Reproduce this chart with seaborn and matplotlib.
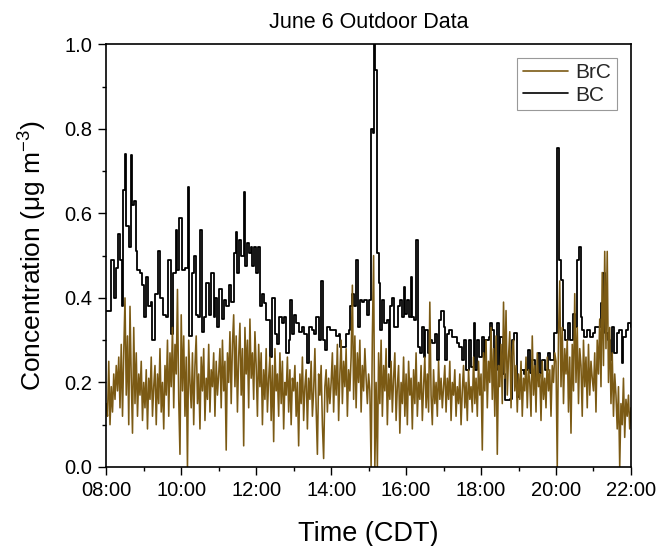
import numpy as np
import pandas as pd
import matplotlib
matplotlib.use("Agg")
import matplotlib.pyplot as plt
import matplotlib.dates as mdates
from matplotlib.ticker import MultipleLocator
from matplotlib.lines import Line2D
import seaborn as sns

# ---------------- data ----------------
title = "June 6 Outdoor Data"
x_label = "Time (CDT)"
y_label = "Concentration (\u03bcg m$^{-3}$)"
series_names = ["BrC", "BC"]
start_time = "2021-06-06 08:00"

# BC: minutes after 08:00 and concentration (step-like trace)
bc_minutes = [0, 5, 8, 12, 15, 19, 22, 25, 27, 30, 32, 36, 39, 42, 44, 47, 50, 54, 58,
              60, 63, 67, 71, 74, 78, 83, 86, 91, 95, 99, 103, 107, 111, 114, 117, 121,
              126, 131, 133, 137, 141, 144, 147, 150, 154, 157, 160, 164, 168, 172, 174,
              178, 181, 185, 189, 192, 196, 199, 204, 207, 210, 213, 216, 220, 222, 225,
              229, 232, 234, 237, 240, 243, 246, 250, 253, 256, 262, 266, 270, 274, 277,
              281, 284, 287, 292, 294, 298, 301, 304, 308, 313, 316, 319, 321, 325, 329,
              332, 336, 340, 343, 347, 350, 354, 358, 364, 368, 372, 374, 380, 384, 388,
              390, 393, 396, 400, 403, 406, 409, 413, 417, 421, 424, 427, 429, 431, 434,
              437, 439, 442, 445, 449, 452, 454, 457, 461, 464, 467, 470, 473, 476, 478,
              481, 484, 488, 490, 493, 496, 499, 502, 505, 508, 511, 515, 518, 522, 526,
              529, 533, 536, 540, 543, 545, 549, 553, 557, 561, 565, 569, 573, 576, 580,
              584, 588, 590, 594, 597, 601, 604, 607, 612, 614, 618, 621, 625, 629, 631,
              635, 638, 642, 646, 649, 653, 657, 661, 664, 668, 670, 675, 678, 682, 686,
              691, 694, 698, 702, 707, 710, 716, 719, 721, 724, 728, 732, 735, 740, 743,
              747, 750, 754, 757, 760, 762, 765, 769, 774, 780, 783, 788, 792, 795, 798,
              803, 806, 810, 813, 817, 821, 825, 828, 832, 836, 840]
bc_values = [0.37, 0.37, 0.49, 0.40, 0.47, 0.55, 0.49, 0.38, 0.655, 0.74, 0.57, 0.52, 0.737,
             0.62, 0.63, 0.51, 0.465, 0.46, 0.43, 0.355, 0.45, 0.38, 0.39, 0.30, 0.41, 0.51,
             0.40, 0.36, 0.355, 0.49, 0.315, 0.46, 0.56, 0.465, 0.59, 0.465, 0.47, 0.663,
             0.31, 0.46, 0.50, 0.36, 0.355, 0.56, 0.32, 0.355, 0.435, 0.36, 0.46, 0.355,
             0.40, 0.33, 0.42, 0.35, 0.395, 0.38, 0.43, 0.39, 0.505, 0.555, 0.46, 0.537,
             0.50, 0.65, 0.475, 0.53, 0.505, 0.52, 0.475, 0.52, 0.458, 0.52, 0.38, 0.41,
             0.387, 0.348, 0.26, 0.40, 0.315, 0.29, 0.355, 0.34, 0.355, 0.27, 0.30, 0.395,
             0.315, 0.36, 0.34, 0.32, 0.33, 0.315, 0.315, 0.245, 0.33, 0.325, 0.315, 0.355,
             0.30, 0.44, 0.30, 0.277, 0.33, 0.325, 0.325, 0.31, 0.315, 0.285, 0.285, 0.315,
             0.325, 0.38, 0.41, 0.38, 0.49, 0.33, 0.395, 0.39, 0.395, 0.36, 0.395, 0.80,
             0.79, 1.0, 0.94, 0.505, 0.435, 0.325, 0.395, 0.34, 0.348, 0.237, 0.38, 0.40,
             0.33, 0.33, 0.38, 0.395, 0.355, 0.426, 0.363, 0.395, 0.355, 0.45, 0.355, 0.348,
             0.537, 0.285, 0.27, 0.33, 0.26, 0.324, 0.27, 0.30, 0.293, 0.315, 0.253, 0.347,
             0.37, 0.33, 0.253, 0.315, 0.324, 0.308, 0.308, 0.293, 0.285, 0.253, 0.30, 0.23,
             0.30, 0.237, 0.34, 0.23, 0.30, 0.261, 0.308, 0.237, 0.30, 0.308, 0.34, 0.324,
             0.23, 0.34, 0.23, 0.308, 0.22, 0.158, 0.158, 0.162, 0.30, 0.316, 0.166, 0.182,
             0.23, 0.22, 0.23, 0.277, 0.222, 0.253, 0.205, 0.269, 0.222, 0.253, 0.23, 0.269,
             0.253, 0.316, 0.316, 0.754, 0.49, 0.442, 0.324, 0.30, 0.34, 0.30, 0.363, 0.332,
             0.49, 0.52, 0.355, 0.324, 0.308, 0.324, 0.308, 0.316, 0.332, 0.332, 0.387,
             0.458, 0.316, 0.30, 0.253, 0.332, 0.269, 0.316, 0.324, 0.245, 0.308, 0.324,
             0.34, 0.33]

# BrC: one value every 2 minutes from 08:00 to 22:00 (one row per hour)
brc_step_minutes = 2
brc_values = [
    0.15, 0.12, 0.25, 0.10, 0.19, 0.13, 0.22, 0.16, 0.24, 0.18, 0.26, 0.14, 0.29, 0.12, 0.27,
    0.40, 0.17, 0.31, 0.10, 0.38, 0.21, 0.08, 0.33, 0.15, 0.27, 0.12, 0.22, 0.17, 0.25, 0.11,
    0.20, 0.14, 0.23, 0.09, 0.21, 0.16, 0.26, 0.12, 0.19, 0.24, 0.10, 0.22, 0.15, 0.28, 0.13,
    0.20, 0.09, 0.24, 0.17, 0.30, 0.12, 0.27, 0.19, 0.33, 0.14, 0.29, 0.22, 0.42, 0.16, 0.03,
    0.36, 0.18, 0.31, 0.12, 0.26, 0.00, 0.30, 0.20, 0.14, 0.27, 0.10, 0.24, 0.31, 0.15, 0.22,
    0.09, 0.26, 0.18, 0.28, 0.11, 0.21, 0.16, 0.29, 0.13, 0.23, 0.19, 0.27, 0.12, 0.25, 0.17,
    0.22, 0.28, 0.14, 0.30, 0.18, 0.25, 0.04, 0.27, 0.20, 0.32, 0.15, 0.29, 0.36, 0.19, 0.31,
    0.13, 0.26, 0.34, 0.17, 0.28, 0.05, 0.33, 0.22, 0.30, 0.14, 0.35, 0.21, 0.27, 0.16, 0.32,
    0.24, 0.12, 0.29, 0.19, 0.27, 0.10, 0.23, 0.16, 0.28, 0.13, 0.21, 0.26, 0.11, 0.24, 0.06,
    0.28, 0.18, 0.22, 0.12, 0.27, 0.15, 0.25, 0.09, 0.20, 0.17, 0.26, 0.13, 0.23, 0.10, 0.21,
    0.18, 0.24, 0.12, 0.20, 0.05, 0.22, 0.15, 0.26, 0.11, 0.19, 0.23, 0.09, 0.21, 0.16, 0.25,
    0.12, 0.18, 0.28, 0.14, 0.03, 0.22, 0.17, 0.24, 0.10, 0.02, 0.19, 0.23, 0.13, 0.21, 0.15,
    0.20, 0.27, 0.13, 0.24, 0.17, 0.29, 0.11, 0.22, 0.30, 0.15, 0.25, 0.19, 0.28, 0.12, 0.23,
    0.18, 0.26, 0.43, 0.16, 0.31, 0.14, 0.27, 0.20, 0.30, 0.13, 0.24, 0.18, 0.28, 0.21, 0.15,
    0.22, 0.18, 0.00, 0.31, 0.50, 0.00, 0.20, 0.00, 0.27, 0.15, 0.30, 0.12, 0.24, 0.18, 0.28,
    0.10, 0.22, 0.16, 0.25, 0.13, 0.21, 0.27, 0.11, 0.19, 0.24, 0.08, 0.20, 0.15, 0.26, 0.12,
    0.22, 0.10, 0.25, 0.17, 0.21, 0.09, 0.23, 0.15, 0.27, 0.12, 0.20, 0.16, 0.24, 0.11, 0.19,
    0.26, 0.14, 0.22, 0.13, 0.39, 0.17, 0.10, 0.23, 0.15, 0.20, 0.12, 0.25, 0.16, 0.21, 0.14,
    0.19, 0.24, 0.13, 0.21, 0.16, 0.25, 0.11, 0.20, 0.17, 0.23, 0.12, 0.19, 0.15, 0.22, 0.10,
    0.18, 0.24, 0.14, 0.20, 0.11, 0.23, 0.16, 0.19, 0.13, 0.26, 0.15, 0.21, 0.12, 0.25, 0.17,
    0.22, 0.04, 0.27, 0.18, 0.30, 0.14, 0.25, 0.20, 0.33, 0.16, 0.28, 0.12, 0.31, 0.03, 0.24,
    0.19, 0.29, 0.15, 0.39, 0.21, 0.37, 0.17, 0.26, 0.32, 0.14, 0.27, 0.30, 0.18, 0.24, 0.13,
    0.22, 0.16, 0.25, 0.12, 0.21, 0.18, 0.26, 0.14, 0.23, 0.20, 0.12, 0.31, 0.17, 0.24, 0.13,
    0.27, 0.19, 0.22, 0.11, 0.25, 0.16, 0.21, 0.14, 0.26, 0.18, 0.23, 0.12, 0.24, 0.20, 0.27,
    0.25, 0.00, 0.31, 0.44, 0.19, 0.33, 0.15, 0.28, 0.22, 0.30, 0.13, 0.26, 0.08, 0.29, 0.18,
    0.41, 0.20, 0.33, 0.15, 0.28, 0.24, 0.12, 0.30, 0.19, 0.26, 0.14, 0.29, 0.17, 0.25, 0.21,
    0.18, 0.27, 0.13, 0.30, 0.22, 0.35, 0.19, 0.46, 0.24, 0.51, 0.28, 0.51, 0.20, 0.33, 0.15,
    0.27, 0.12, 0.22, 0.17, 0.09, 0.19, 0.00, 0.15, 0.10, 0.21, 0.07, 0.16, 0.12, 0.17, 0.09,
    0.14,
]

x_tick_labels = ["08:00", "10:00", "12:00", "14:00", "16:00", "18:00", "20:00", "22:00"]
y_ticks = [0.0, 0.2, 0.4, 0.6, 0.8, 1.0]

# ---------------- build tables ----------------
t0 = pd.Timestamp(start_time)
bc_df = pd.DataFrame({"time": t0 + pd.to_timedelta(bc_minutes, unit="min"),
                      "conc": bc_values})
brc_df = pd.DataFrame({"time": t0 + pd.to_timedelta(np.arange(len(brc_values)) * brc_step_minutes, unit="min"),
                       "conc": brc_values})

# ---------------- style ----------------
sns.set_theme(style="ticks")
plt.rcParams["font.family"] = ["Liberation Sans", "DejaVu Sans"]
plt.rcParams["mathtext.fontset"] = "custom"
plt.rcParams["mathtext.rm"] = "Liberation Sans"
plt.rcParams["mathtext.it"] = "Liberation Sans"
plt.rcParams["xtick.direction"] = "out"
plt.rcParams["ytick.direction"] = "out"

brc_color = "#7B5A14"
bc_color = "#000000"

fig = plt.figure(figsize=(6.6, 5.46), dpi=100)
ax = fig.add_axes([0.161, 0.1447, 0.795, 0.7743])

sns.lineplot(data=bc_df, x="time", y="conc", ax=ax, color=bc_color, linewidth=1.3,
             drawstyle="steps-post", estimator=None, sort=False, legend=False)
sns.lineplot(data=brc_df, x="time", y="conc", ax=ax, color=brc_color, linewidth=1.15,
             estimator=None, sort=False, legend=False)

ax.set_xlim(t0, t0 + pd.Timedelta(hours=14))
ax.set_ylim(0.0, 1.0)

ax.xaxis.set_major_locator(mdates.HourLocator(interval=2))
ax.xaxis.set_minor_locator(mdates.HourLocator(interval=1))
ax.xaxis.set_major_formatter(mdates.DateFormatter("%H:%M"))
ax.set_yticks(y_ticks)
ax.yaxis.set_minor_locator(MultipleLocator(0.1))
ax.yaxis.set_major_formatter(matplotlib.ticker.FormatStrFormatter("%.1f"))

ax.tick_params(axis="both", which="major", length=6, width=1.0, labelsize=14.5, color="black",
               labelcolor="black", pad=4)
ax.tick_params(axis="both", which="minor", length=2.8, width=1.0, color="black")

for s in ax.spines.values():
    s.set_visible(True)
    s.set_color("black")
    s.set_linewidth(1.2)

ax.set_xlabel(x_label, fontsize=19.5, color="black", labelpad=15)
ax.set_ylabel(y_label, fontsize=19, color="black", labelpad=11)
ax.set_title(title, fontsize=15.5, color="black", pad=12)

handles = [Line2D([0], [0], color=brc_color, linewidth=1.2),
           Line2D([0], [0], color=bc_color, linewidth=1.2)]
leg = ax.legend(handles, series_names, loc="upper right", fontsize=15, frameon=True,
                fancybox=False, edgecolor="#999999", framealpha=1, handlelength=2.2,
                handletextpad=0.35, borderpad=0.25, labelspacing=0.15, borderaxespad=0.0,
                bbox_to_anchor=(0.973, 0.967))
leg.get_frame().set_linewidth(0.8)

fig.savefig("out.png", dpi=100)
